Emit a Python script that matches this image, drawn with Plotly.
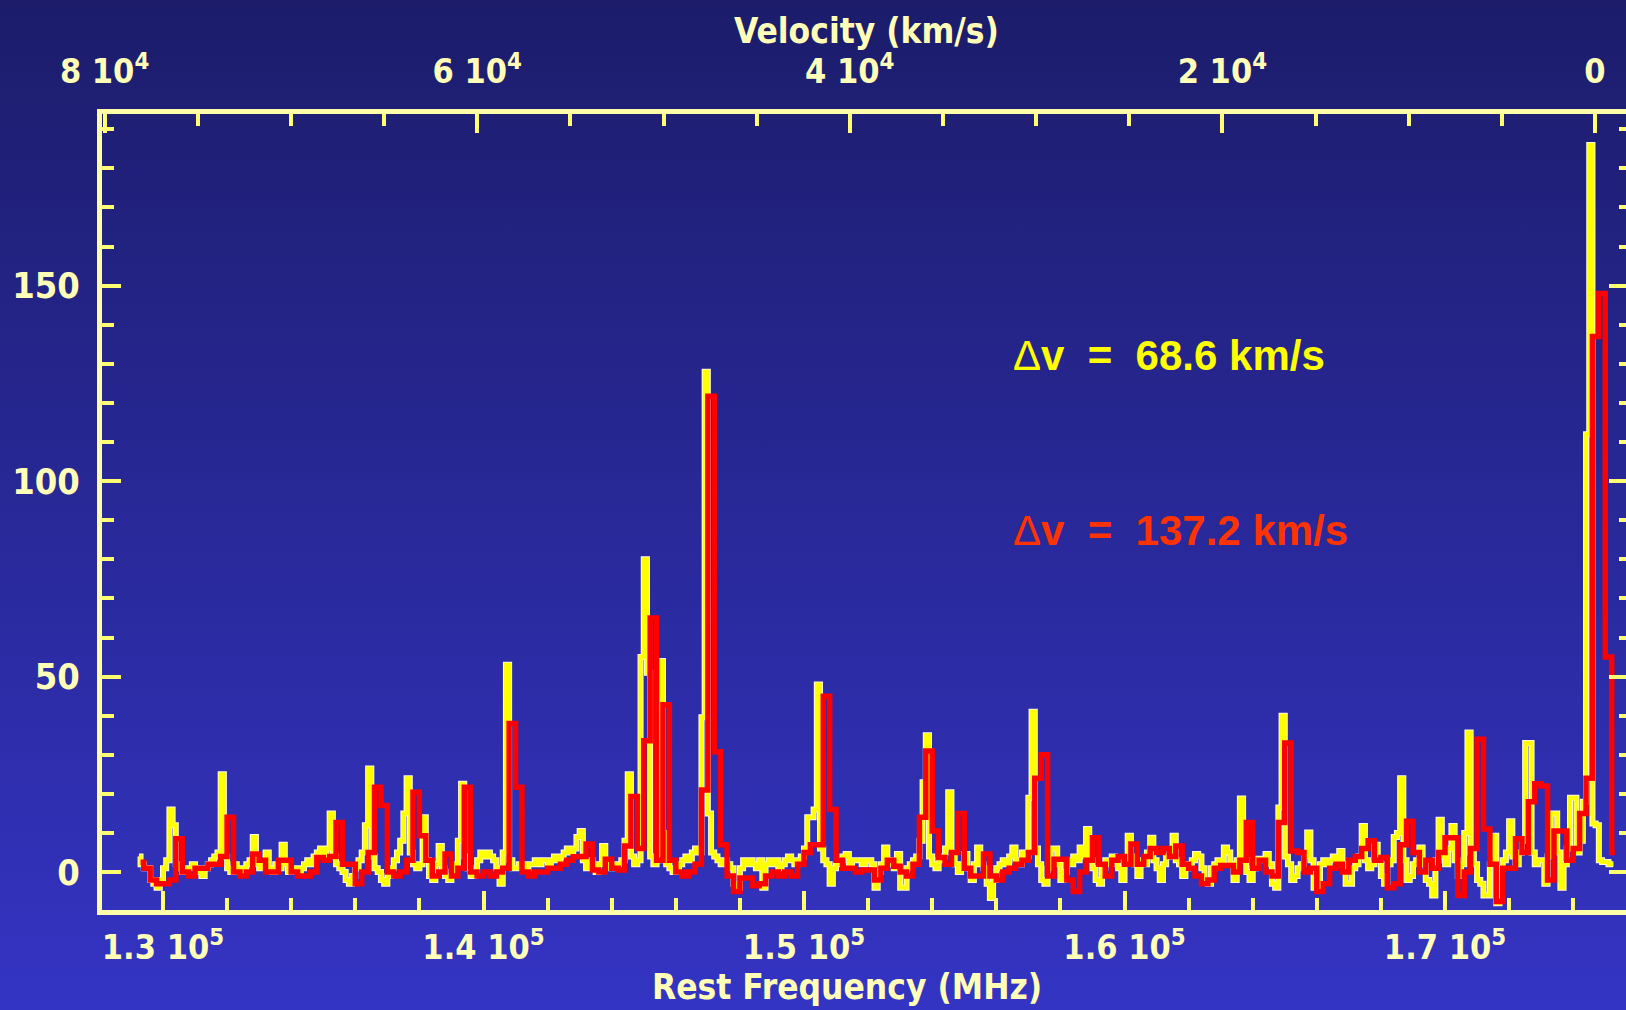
import base64
import numpy as np
import plotly.graph_objects as go

# ---------------------------------------------------------------------------
# Spectrum data: intensity per channel, channels start at 129200 MHz.
# Fine resolution (Δv = 68.6 km/s) uses 100 MHz bins, coarse (Δv = 137.2 km/s) 200 MHz bins.
# ---------------------------------------------------------------------------
FREQ_START = 129200.0
FINE_CHAN = 100.0
COARSE_CHAN = 200.0

fine_flux = [
    4, 2, 1, 1, -2, -3, -4, -2, 1, 3,
    16, 12, 2, 1, 0, 1, 1, 2, 1, 0,
    -1, 1, 2, 3, 4, 5, 25, 4, 1, 0,
    2, 1, 0, 1, 2, 3, 9, 2, 1, 2,
    5, 1, 0, 2, 1, 7, 2, 0, 1, 1,
    0, 1, 2, 3, 2, 4, 5, 6, 4, 6,
    15, 4, 2, 1, 0, -2, -3, -1, 1, 3,
    5, 12, 26.5, 4, 1, 0, -2, -3, -1, 1,
    3, 5, 8, 15, 24, 5, 2, 1, 2, 14,
    3, -1, -2, 2, 6.7, 1, -1, -2, 0, 2,
    8, 22.6, 4, 1, -1, 0, 3, 5, 4, 5,
    4, 3, 1, -3, 5, 53, 3, 1, 1, 2,
    2, 1, 2, 2, 3, 2, 3, 3, 2, 3,
    4, 3, 4, 5, 6, 5, 6, 9, 10.5, 3,
    1, 3, 2, 0, 2, 6.7, 2, 1, 2, 1,
    2, 3, 8, 25, 4, 2, 3, 55, 80, 51,
    4, 2, 3, 54, 10, 2, 1, 0, 1, 2,
    3, 4, 3, 5, 6, 5, 39.6, 128, 15, 5,
    4, 3, 2, 3, 2, 1, -3, -4, 1, 3,
    2, 3, 2, 1, 3, -4, 2, 3, 2, 3,
    1, 2, 3, 4, 3, 2, 3, 4, 6, 14,
    14, 16, 48, 6, 3, 2, -3, 1, 2, 3,
    4, 4.6, 2, 3, 3, 3, 2, 3, 3, 2,
    -4, 0, 2, 6.3, 3, 2, 1, 4.6, -4, -4,
    1, 2, 3, 4, 8, 23, 35, 4, 2, 1,
    3, 4, 6, 20.4, 5, 2, 0, 2, 4.6, 1,
    -2, 2, 6.3, 2, 1, -3, -6.6, -2, 1, 2,
    3, 2, 4, 6.3, 3, 2, 5, 4, 19, 41,
    6, 2, -2, -3, 1, 6, 6, 2, -2, 0,
    3, 2, 4, 3, 6.3, 4, 11, 3, 1, -2,
    -3, 1, 3, 2, 4, 3, 1, -2, 3, 9.3,
    4, 2, -1, 3, 2, 5, 8.8, 3, 1, -2,
    2, 4, 5, 9.3, 3, 2, -1, 1, 2, 3,
    4.6, 4, 1, -2, -3, 1, 2, 3, 2, 6.3,
    5, 2, -2, 3, 18.8, 3, 0, -2, 1, 3.4,
    3, 3.4, 4.6, 2, -3, -4, 16.5, 40, 4, 2,
    -2, -1, 1, 2, 4, 10.1, 3, -4, -4, 2,
    3, 2, 3, 4, 3, 5.4, 2, -3, -3, 1,
    2, 4, 11.8, 3, 1, 2, 7, 3, -1, -3,
    2, 3, 9, 10, 24, 3, -2, -1, 2, 3,
    6.3, 2, -2, -3, -6, 3, 13.4, 4, 2, 6,
    11.8, 3, -1, 2, 10, 35.7, 5, 2, -2, -3,
    -6, -6, 2, 9.3, -8, 1, 3, 5, 13, 4,
    2, 5, 8, 33, 33, 5, 2, 3, 3, -3,
    4, 15, 15, 5, -4, 2, 6, 19, 19, 5,
    8, 18, 112, 186, 12.4, 12, 3, 2.6, 2.6, 2,
    2,
]

coarse_flux = [
    2.5, 1, -2, -3, -3, -2, 8.5, 0, -1, 1,
    1, 2, 2, 4, 14, 0, -1, 0, 4.6, 3,
    0, 0, 3, 3, 0, -1, -1, 0, 3.7, 3,
    4, 12.7, 2, 2, -3, 0, 5, 21.7, 17, 0,
    -1, 0, 3, 20.4, 9.3, 3, -1, 0, 4.6, -1,
    1, 21.7, 0, -1, 0, -1, 0, 1, 38, 21.7,
    0, -1, 0, 0, 1, 1, 2, 3, 3.9, 4,
    7.2, 0.5, 0, 3.3, 1, 0.5, 6.7, 19.3, 6, 33.6,
    65, 3, 42.8, 3, 0, -1, 0, 2, 21, 121.7,
    30.8, 7, -1, -5, -1.5, -1.5, -3.5, -3, -1, 0,
    -1, 0, -1, 2, 5, 7, 7, 45, 16, 3,
    1, 1, 0, 0.5, 0.5, -2, 1, 3, 1.5, 0,
    -1, 2, 14, 31, 10.5, 3.7, 2, 5, 15, 1,
    -1, -1, 4.6, -1, -2, 0, 1, 2, 3, 5,
    24, 30, -1, 3.3, 3.3, -2, -5, 0, 3, 8.8,
    2, -1, 3, 4, 2, 7.2, 2, 4, 6, 5,
    6, 4, 6.7, 2, 1, -1, -3, -2, 1, 1.7,
    1.7, 0, 3, 12.7, 1, 3, 0, -1, 12.7, 33,
    5.4, 5, 0, 1, -5, -3, 1, 2, 0, 3,
    4, 6, 8, 3, 3.7, -4, -3, 7, 13, 5,
    0, 3, 1, 5, 8.8, 8.8, -6, 0, 6, 34,
    11, 2, -7.5, 1, 1, 8.5, 5, 18, 22.6, 22,
    -2, 10.5, 10.5, 3, 6, 15, 24, 137, 148, 55,
    5,
]

# Axis ticks and labels
freq_ticks = [130000, 140000, 150000, 160000, 170000]
freq_labels = ["1.3 10<sup>5</sup>", "1.4 10<sup>5</sup>", "1.5 10<sup>5</sup>",
               "1.6 10<sup>5</sup>", "1.7 10<sup>5</sup>"]
vel_ticks = [80000, 60000, 40000, 20000, 0]
vel_labels = ["8 10<sup>4</sup>", "6 10<sup>4</sup>", "4 10<sup>4</sup>",
              "2 10<sup>4</sup>", "0"]
flux_ticks = [0, 50, 100, 150]
flux_labels = ["0", "50", "100", "150"]

FREQ_RANGE = [128097, 175647]
VEL_RANGE = [80140, -1664]
FLUX_RANGE = [-9.7, 193.9]

fine_freq = FREQ_START + FINE_CHAN * (np.arange(len(fine_flux)) + 0.5)
coarse_freq = FREQ_START + COARSE_CHAN * (np.arange(len(coarse_flux)) + 0.5)

# ---------------------------------------------------------------------------
# Layout geometry (pixels)
# ---------------------------------------------------------------------------
W, H = 1626, 1010
ML, MR, MT, MB = 102, 0, 114, 100
PW, PH = W - ML - MR, H - MT - MB


def px(x):
    return (x - ML) / PW


def py(y):
    return (H - MB - y) / PH


AXIS_LINE = "#ffffa8"
TICK_COL = "#ffff70"
LABEL_COL = "#ffffb8"
FAMILY = "Liberation Sans Narrow, DejaVu Sans Condensed, Liberation Sans, Arial"
TICK_FONT = dict(family=FAMILY, size=34, color=LABEL_COL, weight="bold")
YTICK_FONT = dict(family=FAMILY, size=36, color=LABEL_COL, weight="bold")

fig = go.Figure()

# soft edge under the fine spectrum
fig.add_trace(go.Scatter(x=fine_freq, y=fine_flux, mode="lines",
                         line=dict(color="#fffbd8", width=6, shape="hvh"),
                         hoverinfo="skip", showlegend=False))
fig.add_trace(go.Scatter(x=fine_freq, y=fine_flux, mode="lines", name="Δv = 68.6 km/s",
                         line=dict(color="#ffff00", width=4, shape="hvh"),
                         showlegend=False))
fig.add_trace(go.Scatter(x=coarse_freq, y=coarse_flux, mode="lines", name="Δv = 137.2 km/s",
                         line=dict(color="#ff0000", width=5.5, shape="hvh"),
                         showlegend=False))
# carrier for the velocity (top) and mirrored right axes
fig.add_trace(go.Scatter(x=[None], y=[None], xaxis="x2", yaxis="y2",
                         mode="lines", hoverinfo="skip", showlegend=False))

freq_minor = [f for f in range(128000, 176001, 2000) if f % 10000]
vel_minor = [v for v in range(0, 80001, 5000) if v % 20000]
flux_minor = [v for v in range(-10, 195, 10) if v % 50]

fig.update_layout(
    width=W, height=H,
    margin=dict(l=ML, r=MR, t=MT, b=MB, pad=0),
    paper_bgcolor="rgba(0,0,0,0)",
    plot_bgcolor="rgba(0,0,0,0)",
    xaxis=dict(range=FREQ_RANGE, tickmode="array", tickvals=freq_ticks, ticktext=freq_labels,
               ticks="inside", ticklen=19, tickwidth=4, tickcolor=TICK_COL,
               minor=dict(tickvals=freq_minor, ticks="inside", ticklen=12, tickwidth=4,
                          tickcolor=TICK_COL, showgrid=False),
               showline=True, linewidth=5, linecolor=AXIS_LINE, mirror=False,
               showgrid=False, zeroline=False, tickfont=TICK_FONT, ticklabelstandoff=3),
    xaxis2=dict(range=VEL_RANGE, overlaying="x", side="top", anchor="y2",
                tickmode="array", tickvals=vel_ticks, ticktext=vel_labels,
                ticks="inside", ticklen=19, tickwidth=4, tickcolor=TICK_COL,
                minor=dict(tickvals=vel_minor, ticks="inside", ticklen=12, tickwidth=4,
                           tickcolor=TICK_COL, showgrid=False),
                showline=True, linewidth=5, linecolor=AXIS_LINE,
                showgrid=False, zeroline=False, tickfont=TICK_FONT, ticklabelstandoff=12),
    yaxis=dict(range=FLUX_RANGE, tickmode="array", tickvals=flux_ticks, ticktext=flux_labels,
               ticks="inside", ticklen=19, tickwidth=4, tickcolor=TICK_COL,
               minor=dict(tickvals=flux_minor, ticks="inside", ticklen=12, tickwidth=4,
                          tickcolor=TICK_COL, showgrid=False),
               showline=True, linewidth=5, linecolor=AXIS_LINE, mirror=False,
               showgrid=False, zeroline=False, tickfont=YTICK_FONT, ticklabelstandoff=10),
    yaxis2=dict(range=FLUX_RANGE, overlaying="y", side="right", anchor="x2",
                tickmode="array", tickvals=flux_ticks, showticklabels=False,
                ticks="inside", ticklen=17, tickwidth=4, tickcolor=TICK_COL,
                minor=dict(tickvals=flux_minor, ticks="inside", ticklen=7, tickwidth=4,
                           tickcolor=TICK_COL, showgrid=False),
                showline=False, showgrid=False, zeroline=False),
)

# background gradient over the whole page
svg = ('<svg xmlns="http://www.w3.org/2000/svg" width="10" height="100" '
       'viewBox="0 0 10 100" preserveAspectRatio="none">'
       '<defs><linearGradient id="g" x1="0" y1="0" x2="0" y2="1">'
       '<stop offset="0" stop-color="#1c1c6b"/>'
       '<stop offset="1" stop-color="#3434c4"/>'
       '</linearGradient></defs>'
       '<rect width="10" height="100" fill="url(#g)"/></svg>')
fig.add_layout_image(dict(
    source="data:image/svg+xml;base64," + base64.b64encode(svg.encode()).decode(),
    xref="paper", yref="paper", x=px(0), y=py(0), sizex=W / PW, sizey=H / PH,
    xanchor="left", yanchor="top", sizing="stretch", layer="below"))

TITLE_FONT = dict(family=FAMILY, size=35, color=LABEL_COL, weight="bold")
fig.add_annotation(text="Velocity (km/s)", xref="paper", yref="paper",
                   x=px(866), y=py(31), xanchor="center", yanchor="middle",
                   showarrow=False, font=TITLE_FONT)
fig.add_annotation(text="Rest Frequency (MHz)", xref="paper", yref="paper",
                   x=px(847), y=py(987), xanchor="center", yanchor="middle",
                   showarrow=False, font=TITLE_FONT)

NB = "\u00a0"
LABEL_FONT = dict(family="Liberation Sans, Arial", size=42, weight="normal")
fig.add_annotation(text=f"Δ<b>v{NB}{NB}={NB}{NB}68.6 km/s</b>", xref="paper", yref="paper",
                   x=px(1011), y=py(355), xanchor="left", yanchor="middle",
                   showarrow=False, font=dict(LABEL_FONT, color="#ffff00"))
fig.add_annotation(text=f"Δ<b>v{NB}{NB}={NB}{NB}137.2 km/s</b>", xref="paper", yref="paper",
                   x=px(1011), y=py(530), xanchor="left", yanchor="middle",
                   showarrow=False, font=dict(LABEL_FONT, color="#ff3300"))

fig.write_html("out.html")
